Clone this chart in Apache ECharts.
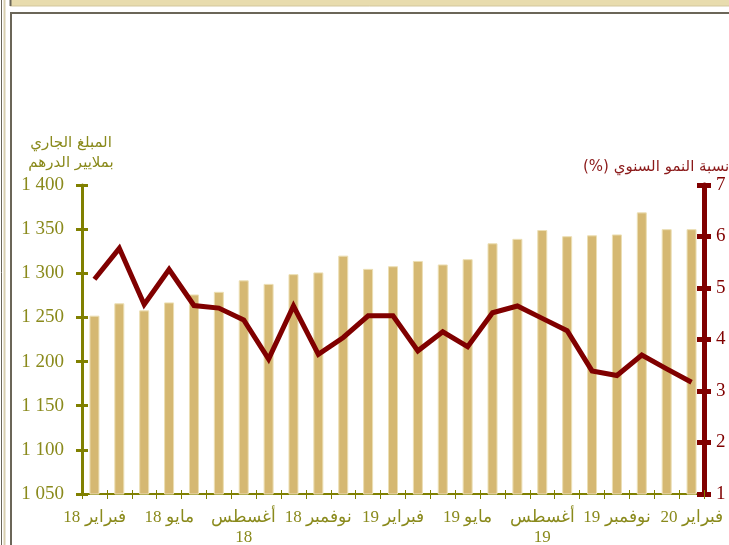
<!DOCTYPE html>
<html>
<head>
<meta charset="utf-8">
<script src="https://cdn.jsdelivr.net/npm/echarts@6/dist/echarts.min.js"></script>
<style>
  html, body { margin: 0; padding: 0; background: #fff; }
  #char { width: 729px; height: 545px; }
</style>
</head>
<body>
<div id="char"></div>
<script>
// الأشهر (فبراير 2018 - فبراير 2020)
const months = [
  'فبراير 18', 'مارس 18', 'أبريل 18', 'مايو 18', 'يونيو 18', 'يوليو 18',
  'أغسطس 18', 'سبتمبر 18', 'أكتوبر 18', 'نوفمبر 18', 'ديسمبر 18', 'يناير 19',
  'فبراير 19', 'مارس 19', 'أبريل 19', 'مايو 19', 'يونيو 19', 'يوليو 19',
  'أغسطس 19', 'سبتمبر 19', 'أكتوبر 19', 'نوفمبر 19', 'ديسمبر 19', 'يناير 20',
  'فبراير 20'
]
// المبلغ الجاري بملايير الدرهم
const amount = [
  1252, 1266, 1258, 1267, 1276, 1279, 1292, 1288, 1299, 1301, 1320, 1305,
  1308, 1314, 1310, 1316, 1334, 1339, 1349, 1342, 1343, 1344, 1369, 1350, 1350
]
// نسبة النمو السنوي (%)
const growth = [
  5.17, 5.77, 4.68, 5.36, 4.66, 4.61, 4.38, 3.62, 4.65, 3.71, 4.04, 4.46,
  4.46, 3.78, 4.15, 3.86, 4.52, 4.65, 4.41, 4.17, 3.39, 3.30, 3.70, 3.43, 3.17
]
const leftAxis = { min: 1050, max: 1400, interval: 50 }
const rightAxis = { min: 1, max: 7, interval: 1 }

const olive = '#808000'
const oliveText = '#8a8a1c'
const red = '#800000'
const serif = 'Liberation Serif'
const frameGray = '#6b6658'

let myChart = echarts.init(document.getElementById('char'))

// ticks that cross the axis: one axis draws outside, a twin draws inside
function yTwin(pos, color, width, len, conf) {
  return {
    type: 'value', position: pos, min: conf.min, max: conf.max, interval: conf.interval,
    axisLine: { show: false },
    axisTick: { show: true, inside: true, length: len, lineStyle: { color: color, width: width } },
    axisLabel: { show: false },
    splitLine: { show: false }
  }
}

let option = {
  animation: false,
  grid: { left: 82, right: 25, top: 185, bottom: 51, outerBoundsMode: 'none', containLabel: false },
  xAxis: [
    {
      type: 'category',
      data: months,
      position: 'bottom',
      axisLine: { lineStyle: { color: olive, width: 2 } },
      axisTick: { show: true, interval: 0, length: 5, lineStyle: { color: olive, width: 1 } },
      axisLabel: {
        interval: 2,
        margin: 14,
        color: oliveText,
        fontFamily: serif,
        fontSize: 17,
        lineHeight: 20,
        formatter: (v) => (v.indexOf('أغسطس') === 0 ? v.replace(' ', '\n') : v)
      },
      splitLine: { show: false }
    },
    {
      type: 'category',
      data: months,
      position: 'bottom',
      axisLine: { show: false },
      axisTick: { show: true, inside: true, interval: 0, length: 4, lineStyle: { color: olive, width: 1 } },
      axisLabel: { show: false },
      splitLine: { show: false }
    }
  ],
  yAxis: [
    {
      type: 'value',
      position: 'left',
      min: leftAxis.min, max: leftAxis.max, interval: leftAxis.interval,
      axisLine: { show: true, lineStyle: { color: olive, width: 3 } },
      axisTick: { show: true, length: 6, lineStyle: { color: olive, width: 3 } },
      axisLabel: {
        margin: 18,
        color: oliveText,
        fontFamily: serif,
        fontSize: 19,
        formatter: (v) => String(v).replace(/\B(?=(\d{3})+$)/, ' ')
      },
      splitLine: { show: false }
    },
    {
      type: 'value',
      position: 'right',
      min: rightAxis.min, max: rightAxis.max, interval: rightAxis.interval,
      axisLine: { show: true, lineStyle: { color: red, width: 5 } },
      axisTick: { show: true, length: 7, lineStyle: { color: red, width: 5 } },
      axisLabel: { margin: 12, color: red, fontFamily: serif, fontSize: 19 },
      splitLine: { show: false }
    },
    yTwin('left', olive, 3, 6, leftAxis),
    yTwin('right', red, 5, 7, rightAxis)
  ],
  series: [
    {
      name: 'المبلغ الجاري',
      type: 'bar',
      data: amount,
      barWidth: 10,
      itemStyle: { color: '#d5b872', borderColor: '#ecdfb4', borderWidth: 1 },
      z: 2
    },
    {
      name: 'نسبة النمو السنوي',
      type: 'line',
      yAxisIndex: 1,
      data: growth,
      showSymbol: false,
      symbol: 'none',
      lineStyle: { color: red, width: 5, join: 'miter' },
      z: 3
    }
  ],
  graphic: [
    // إطار الصفحة
    { type: 'line', shape: { x1: 1.5, y1: 0, x2: 1.5, y2: 545 }, style: { stroke: frameGray, lineWidth: 1 } },
    { type: 'line', shape: { x1: 4.5, y1: 0, x2: 4.5, y2: 545 }, style: { stroke: '#d8cfb0', lineWidth: 2 } },
    { type: 'rect', shape: { x: 10, y: 0, width: 719, height: 6 }, style: { fill: '#e8dcae' } },
    { type: 'line', shape: { x1: 10, y1: 6, x2: 729, y2: 6 }, style: { stroke: '#d3c79d', lineWidth: 1 } },
    { type: 'line', shape: { x1: 10.5, y1: 0, x2: 10.5, y2: 6 }, style: { stroke: frameGray, lineWidth: 2 } },
    { type: 'line', shape: { x1: 10, y1: 13, x2: 729, y2: 13 }, style: { stroke: frameGray, lineWidth: 2 } },
    { type: 'line', shape: { x1: 11, y1: 12, x2: 11, y2: 545 }, style: { stroke: frameGray, lineWidth: 2 } },
    // عناوين المحاور
    {
      type: 'text', x: 71, y: 133,
      style: {
        text: 'المبلغ الجاري\nبملايير الدرهم',
        align: 'center', verticalAlign: 'top', lineHeight: 20,
        fill: oliveText, font: "15px 'DejaVu Sans', sans-serif"
      }
    },
    {
      type: 'text', x: 583, y: 160,
      style: {
        text: 'نسبة النمو السنوي (%)\u200F',
        align: 'left', verticalAlign: 'top',
        fill: '#8b1a1a', font: "15px 'DejaVu Sans', sans-serif"
      }
    }
  ]
}
myChart.setOption(option)
</script>
</body>
</html>
